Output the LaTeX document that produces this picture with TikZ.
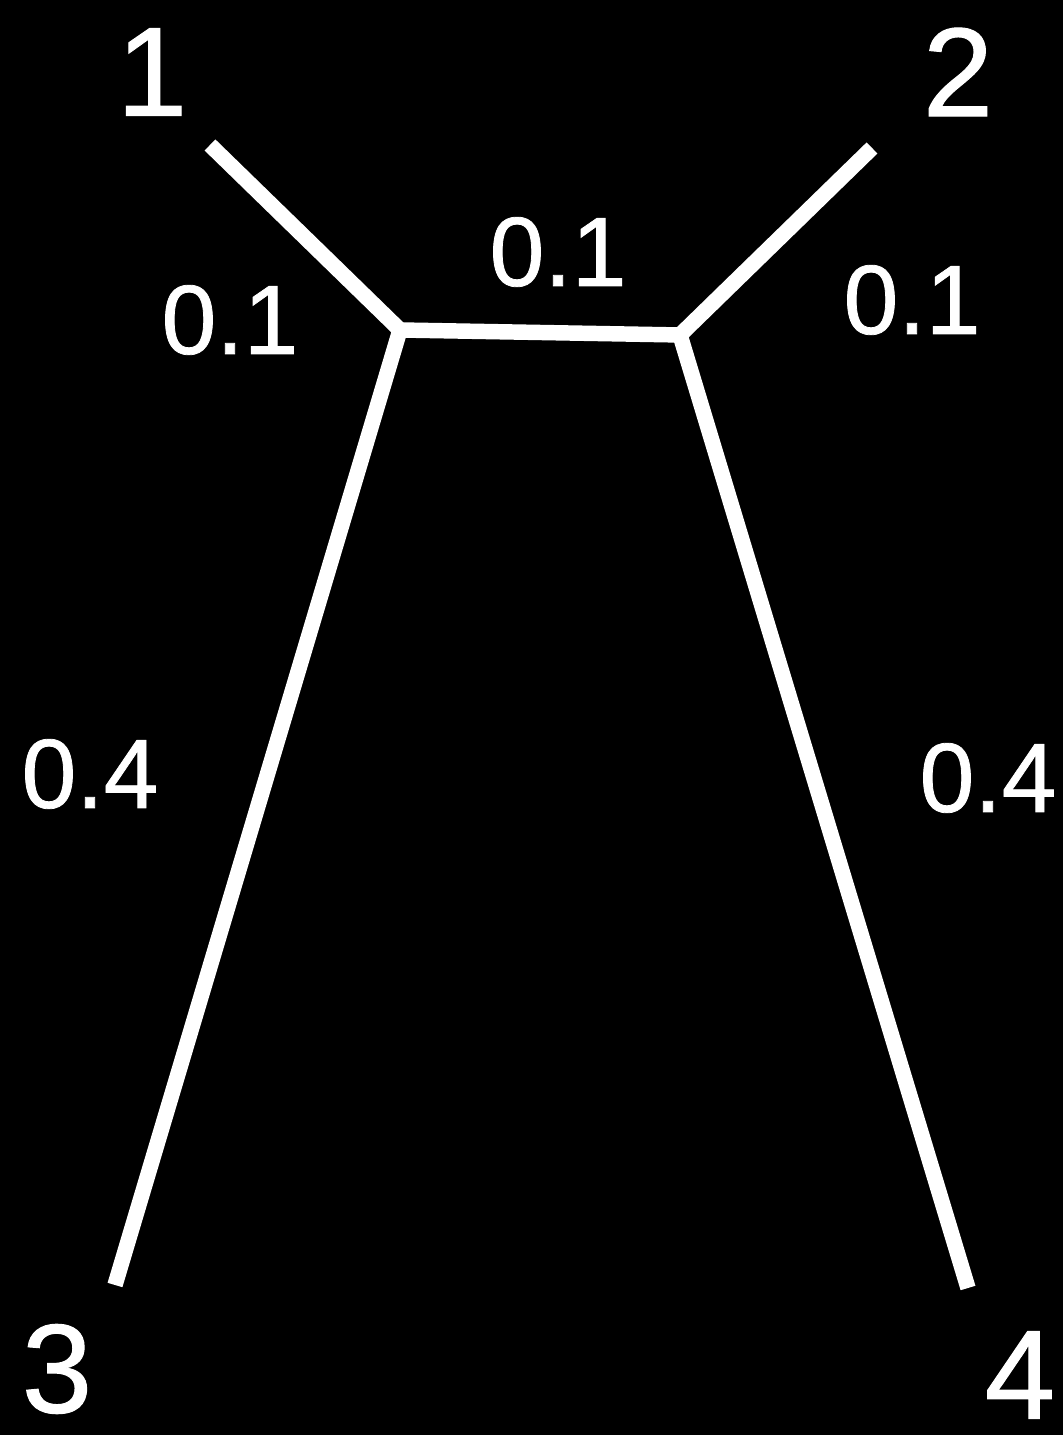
\documentclass[tikz,border=0pt]{standalone}
\usepackage{fontspec}
\setmainfont{Liberation Sans}
\newfontfamily\labelfont[FakeBold=0.8]{Liberation Sans}
\usetikzlibrary{positioning}

\begin{document}
\begin{tikzpicture}[
    % tree branches and labels
    branch/.style={draw=white, line width=4.4pt, line join=miter},
    leaflabel/.style={text=white, font=\labelfont\fontsize{36}{40}\selectfont, inner sep=0pt},
    lenlabel/.style={text=white, font=\labelfont\fontsize{28}{32}\selectfont, inner sep=0pt}
]

% Background and bounding box
\fill[black] (0,0) rectangle (10.63,14.35);
\useasboundingbox (0,0) rectangle (10.63,14.35);

% Leaves and internal nodes
\coordinate (l1) at (2.10,12.90);
\coordinate (l2) at (8.72,12.87);
\coordinate (l3) at (1.15,1.50);
\coordinate (l4) at (9.68,1.47);
\coordinate (ia) at (4.00,11.05);
\coordinate (ib) at (6.80,11.00);

% Branches
\draw[branch] (l1) -- (ia) -- (l3);
\draw[branch] (l2) -- (ib) -- (l4);
\draw[branch] (ia) -- (ib);

% Leaf names
\node[leaflabel] (n1) at (1.52,13.63) {1};
\node[leaflabel] (n2) at (9.58,13.63) {2};
\node[leaflabel] (n3) at (0.57,0.66) {3};
\node[leaflabel] (n4) at (10.20,0.60) {4};

% Branch lengths
\node[lenlabel] (w1) at (2.30,11.15) {0.1};
\node[lenlabel] (wm) at (5.58,11.83) {0.1};
\node[lenlabel] (w2) at (9.12,11.35) {0.1};
\node[lenlabel] (w3) at (0.90,6.61) {0.4};
\node[lenlabel] (w4) at (9.88,6.57) {0.4};

\end{tikzpicture}
\end{document}
